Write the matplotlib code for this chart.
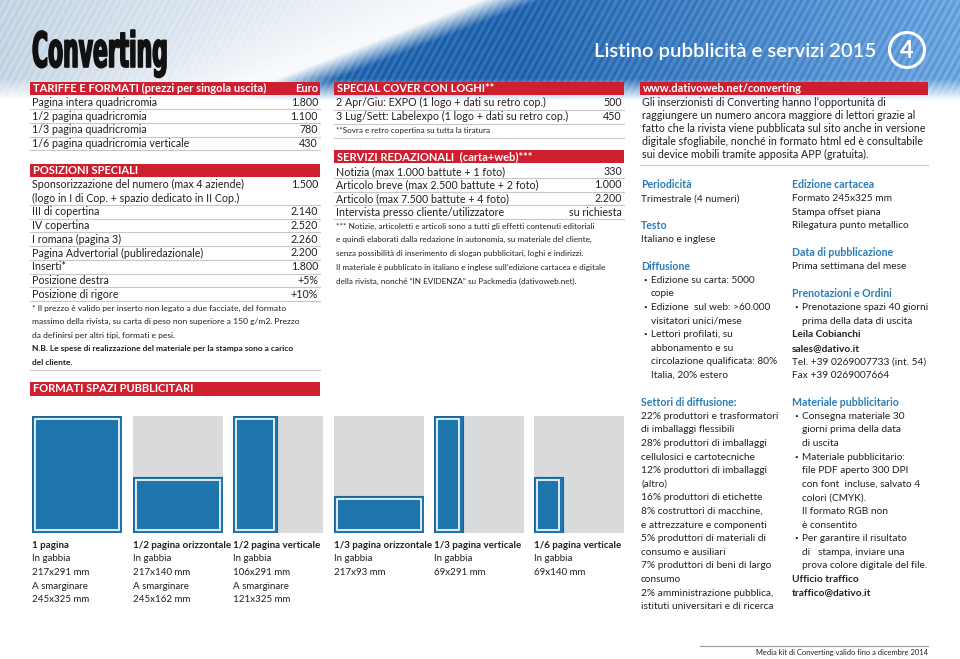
import numpy as np
import matplotlib
matplotlib.use("Agg")
import matplotlib.pyplot as plt
from matplotlib.patches import Rectangle, Circle
from matplotlib.patheffects import AbstractPathEffect
from matplotlib.transforms import Affine2D

plt.rcParams['font.family'] = ['Lato', 'DejaVu Sans']

RED = '#cd1f30'
BLUE = '#1f76ad'
HEAD_BLUE = '#2a7db8'
GRAY = '#d9dadc'
LINE = '#c6c7c9'
INK = '#231f20'

# ---- data ----
tariffe_labels = ["Pagina intera quadricromia", "1/2 pagina quadricromia",
                  "1/3 pagina quadricromia", "1/6 pagina quadricromia verticale"]
tariffe_prices = ["1.800", "1.100", "780", "430"]

posizioni_labels = ["Sponsorizzazione del numero (max 4 aziende)",
                    "(logo in I di Cop. + spazio dedicato in II Cop.)",
                    "III di copertina", "IV copertina", "I romana (pagina 3)",
                    "Pagina Advertorial (publiredazionale)", "Inserti*",
                    "Posizione destra", "Posizione di rigore"]
posizioni_prices = ["1.500", "", "2.140", "2.520", "2.260", "2.200", "1.800", "+5%", "+10%"]

posizioni_note = ["* Il prezzo è valido per inserto non legato a due facciate, del formato",
                  "massimo della rivista, su carta di peso non superiore a 150 g/m2. Prezzo",
                  "da definirsi per altri tipi, formati e pesi."]
posizioni_nb = ["N.B. Le spese di realizzazione del materiale per la stampa sono a carico",
                "del cliente."]

special_labels = ["2 Apr/Giu: EXPO (1 logo + dati su retro cop.)",
                  "3 Lug/Sett: Labelexpo (1 logo + dati su retro cop.)"]
special_prices = ["500", "450"]
special_note = "**Sovra e retro copertina su tutta la tiratura"

servizi_labels = ["Notizia (max 1.000 battute + 1 foto)",
                  "Articolo breve (max 2.500 battute + 2 foto)",
                  "Articolo (max 7.500 battute + 4 foto)",
                  "Intervista presso cliente/utilizzatore"]
servizi_prices = ["330", "1.000", "2.200", "su richiesta"]
servizi_note = ["*** Notizie, articoletti e articoli sono a tutti gli effetti contenuti editoriali",
                "e quindi elaborati dalla redazione in autonomia, su materiale del cliente,",
                "senza possibilità di inserimento di slogan pubblicitari, loghi e indirizzi.",
                "Il materiale è pubblicato in italiano e inglese sull\u2019edizione cartacea e digitale",
                "della rivista, nonché \u201cIN EVIDENZA\u201d su Packmedia (dativoweb.net)."]

web_text = ["Gli inserzionisti di Converting hanno l\u2019opportunità di",
            "raggiungere un numero ancora maggiore di lettori grazie al",
            "fatto che la rivista viene pubblicata sul sito anche in versione",
            "digitale sfogliabile, nonché in formato html ed è consultabile",
            "sui device mobili tramite apposita APP (gratuita)."]

# (style, text) per line slot; None = empty slot
info_left = [("h", "Periodicità"), ("t", "Trimestrale (4 numeri)"), None,
             ("h", "Testo"), ("t", "Italiano e inglese"), None,
             ("h", "Diffusione"), ("b", "Edizione su carta: 5000"), ("c", "copie"),
             ("b", "Edizione  sul web: >60.000"), ("c", "visitatori unici/mese"),
             ("b", "Lettori profilati, su"), ("c", "abbonamento e su"),
             ("c", "circolazione qualificata: 80%"), ("c", "Italia, 20% estero"), None,
             ("h", "Settori di diffusione:"),
             ("t", "22% produttori e trasformatori"), ("t", "di imballaggi flessibili"),
             ("t", "28% produttori di imballaggi"), ("t", "cellulosici e cartotecniche"),
             ("t", "12% produttori di imballaggi"), ("t", "(altro)"),
             ("t", "16% produttori di etichette"), ("t", "8% costruttori di macchine,"),
             ("t", "e attrezzature e componenti"), ("t", "5% produttori di materiali di"),
             ("t", "consumo e ausiliari"), ("t", "7% produttori di beni di largo"),
             ("t", "consumo"), ("t", "2% amministrazione pubblica,"),
             ("t", "istituti universitari e di ricerca")]
info_right = [("h", "Edizione cartacea"), ("t", "Formato 245x325 mm"),
              ("t", "Stampa offset piana"), ("t", "Rilegatura punto metallico"), None,
              ("h", "Data di pubblicazione"), ("t", "Prima settimana del mese"), None,
              ("h", "Prenotazioni e Ordini"), ("b", "Prenotazione spazi 40 giorni"),
              ("c", "prima della data di uscita"), ("k", "Leila Cobianchi"),
              ("k", "sales@dativo.it"), ("t", "Tel. +39 0269007733 (int. 54)"),
              ("t", "Fax +39 0269007664"), None,
              ("h", "Materiale pubblicitario"), ("b", "Consegna materiale 30"),
              ("c", "giorni prima della data"), ("c", "di uscita"),
              ("b", "Materiale pubblicitario:"), ("c", "file PDF aperto 300 DPI"),
              ("c", "con font  incluse, salvato 4"), ("c", "colori (CMYK)."),
              ("c", "Il formato RGB non"), ("c", "è consentito"),
              ("b", "Per garantire il risultato"), ("c", "di   stampa, inviare una"),
              ("c", "prova colore digitale del file."), ("k", "Ufficio traffico"),
              ("k", "traffico@dativo.it")]

format_names = ["1 pagina", "1/2 pagina orizzontale", "1/2 pagina verticale",
                "1/3 pagina orizzontale", "1/3 pagina verticale", "1/6 pagina verticale"]
format_gabbia = [(217, 291), (217, 140), (106, 291), (217, 93), (69, 291), (69, 140)]
format_smarginare = [(245, 325), (245, 162), (121, 325), None, None, None]
page_gabbia = (217, 291)


class Squeeze(AbstractPathEffect):
    """Horizontally condense text drawn as path (for the logo)."""
    def __init__(self, sx, lw=0.0):
        super().__init__()
        self.sx = sx
        self.lw = lw

    def draw_path(self, renderer, gc, tpath, affine, rgbFace=None):
        x0, y0 = affine.transform((0, 0))
        aff = affine + Affine2D().translate(-x0, -y0).scale(self.sx, 1.0).translate(x0, y0)
        gc0 = renderer.new_gc()
        gc0.copy_properties(gc)
        if self.lw:
            gc0.set_linewidth(self.lw)
            gc0.set_foreground(rgbFace)
        renderer.draw_path(gc0, tpath, aff, rgbFace)
        gc0.restore()


fig = plt.figure(figsize=(9.6, 6.59), dpi=100)
ax = fig.add_axes([0, 0, 1, 1])
ax.set_xlim(0, 960)
ax.set_ylim(659, 0)
ax.axis('off')

# ---- header background (swirl approximation) ----
H, W = 110, 960
yy, xx = np.mgrid[0:H, 0:W].astype(float)
edge = 480 - 2.6 * yy
t = np.clip((xx - edge) / 60.0, 0, 1)
streak = 0.5 + 0.5 * np.sin((xx + 0.55 * yy) * 0.9)
left_mix = np.clip(xx / (edge - 30), 0, 1)[..., None]
left_col = (1 - left_mix) * np.array([0.80, 0.86, 0.92]) + left_mix * np.array([0.97, 0.98, 0.99])
left_col = left_col - 0.05 * streak[..., None] * (1 - left_mix)
bm = np.clip((xx - 520) / 440.0, 0, 1)[..., None]
blue_col = (1 - bm) * np.array([0.10, 0.36, 0.64]) + bm * np.array([0.38, 0.60, 0.83])
blue_col = blue_col + 0.10 * streak[..., None]
img = (1 - t[..., None]) * left_col + t[..., None] * blue_col
alpha = np.clip((100 - yy) / 22.0, 0, 1)
rgba = np.dstack([np.clip(img, 0, 1), alpha])
ax.imshow(rgba, extent=[0, 960, 110, 0], aspect='auto', zorder=0)

logo = ax.text(32, 67, "Converting", fontsize=35, fontweight='bold',
               family=['DejaVu Sans'], color='#111111', ha='left', va='baseline', zorder=3)
ax.text(594, 57, "Listino pubblicità e servizi 2015", fontsize=14.6, fontweight='semibold',
        color='white', ha='left', va='baseline', zorder=3)
ax.add_patch(Circle((907, 50), 17.5, fill=False, ec='white', lw=2.2, zorder=3))
ax.text(907, 50.5, "4", fontsize=17, fontweight='bold', color='white',
        ha='center', va='center', zorder=3)


def red_bar(x0, x1, y0, y1, text, right=None):
    ax.add_patch(Rectangle((x0, y0), x1 - x0, y1 - y0, fc=RED, ec='none', zorder=2))
    ym = (y0 + y1) / 2
    ax.text(x0 + 3, ym, text, fontsize=8, fontweight='bold', color='white',
            ha='left', va='center', zorder=3)
    if right:
        ax.text(x1 - 2, ym, right, fontsize=8, fontweight='bold', color='white',
                ha='right', va='center', zorder=3)


def hline(x0, x1, y, color=LINE, lw=0.8):
    ax.plot([x0, x1], [y, y], color=color, lw=lw, zorder=2)


def rows(labels, prices, x0, x1, y0, step, size=7.7):
    for i, (lab, pr) in enumerate(zip(labels, prices)):
        y = y0 + i * step
        ax.text(x0 + 2, y, lab, fontsize=size, color=INK, ha='left', va='center', zorder=3)
        if pr:
            ax.text(x1 - 2, y, pr, fontsize=size, color=INK, ha='right', va='center', zorder=3)
        nxt = prices[i + 1] if i + 1 < len(prices) else "x"
        if nxt:
            hline(x0, x1, y + step / 2)


# ---- left column ----
LX0, LX1 = 30, 320
red_bar(LX0, LX1, 82, 95, "TARIFFE E FORMATI (prezzi per singola uscita)", "Euro")
rows(tariffe_labels, tariffe_prices, LX0, LX1, 102.5, 13.7)
red_bar(LX0, LX1, 164, 177, "POSIZIONI SPECIALI")
rows(posizioni_labels, posizioni_prices, LX0, LX1, 184.5, 13.7)
for i, line in enumerate(posizioni_note):
    ax.text(LX0 + 2, 308 + i * 13.6, line, fontsize=6.1, color=INK, va='center', zorder=3)
for i, line in enumerate(posizioni_nb):
    ax.text(LX0 + 2, 349 + i * 13.6, line, fontsize=6.0, fontweight='bold', color=INK,
            va='center', zorder=3)
hline(LX0, LX1, 369.5)
red_bar(LX0, LX1, 382, 396, "FORMATI SPAZI PUBBLICITARI")

# ---- middle column ----
MX0, MX1 = 334, 624
red_bar(MX0, MX1, 82, 95, "SPECIAL COVER CON LOGHI**")
rows(special_labels, special_prices, MX0, MX1, 102.5, 14)
ax.text(MX0 + 2, 130.5, special_note, fontsize=5.8, color=INK, va='center', zorder=3)
hline(MX0, MX1, 137.5)
red_bar(MX0, MX1, 150, 163, "SERVIZI REDAZIONALI  (carta+web)***")
rows(servizi_labels, servizi_prices, MX0, MX1, 171.5, 13.5)
for i, line in enumerate(servizi_note):
    ax.text(MX0 + 2, 226 + i * 13.8, line, fontsize=5.9, color=INK, va='center', zorder=3)

# ---- right column ----
RX0, RX1 = 640, 928
red_bar(RX0, RX1, 82, 95, "www.dativoweb.net/converting")
for i, line in enumerate(web_text):
    ax.text(RX0 + 2, 103 + i * 12.8, line, fontsize=7.7, color=INK, va='center', zorder=3)
hline(RX0, RX1, 164.5)


def info(items, x, y0=185, step=13.6):
    for k, item in enumerate(items):
        if item is None:
            continue
        kind, txt = item
        y = y0 + k * step
        if kind == "h":
            ax.text(x, y, txt, fontsize=7.6, fontweight='bold', color=HEAD_BLUE,
                    va='center', zorder=3)
        elif kind == "k":
            ax.text(x, y, txt, fontsize=7.3, fontweight='bold', color=INK, va='center', zorder=3)
        elif kind == "b":
            ax.text(x + 4, y, "\u2022", fontsize=4.5, color=INK, va='center', ha='center', zorder=3)
            ax.text(x + 10, y, txt, fontsize=7.3, color=INK, va='center', zorder=3)
        elif kind == "c":
            ax.text(x + 10, y, txt, fontsize=7.3, color=INK, va='center', zorder=3)
        else:
            ax.text(x, y, txt, fontsize=7.3, color=INK, va='center', zorder=3)


info(info_left, 641)
info(info_right, 792)

# ---- format diagrams ----
box_x = [32, 133, 233, 334, 434, 534]
BOX_W, BOX_H, BOX_Y = 90, 117, 416
for i, name in enumerate(format_names):
    bx = box_x[i]
    dax = fig.add_axes([bx / 960, 1 - (BOX_Y + BOX_H) / 659, BOX_W / 960, BOX_H / 659])
    dax.set_xlim(0, 1)
    dax.set_ylim(0, 1)
    dax.axis('off')
    wf = format_gabbia[i][0] / page_gabbia[0]
    hf = format_gabbia[i][1] / page_gabbia[1]
    dax.add_patch(Rectangle((0, 0), 1, 1, fc=GRAY, ec='none'))
    dax.add_patch(Rectangle((0, 0), wf, hf, fc=BLUE, ec='#1a6597', lw=0.8))
    px, py = 0.035, 0.025
    dax.add_patch(Rectangle((px, py), wf - 2 * px, hf - 2 * py, fill=False, ec='white', lw=1.2))

    ax.text(bx, 545, name, fontsize=7, fontweight='bold', color=INK, va='center', zorder=3)
    ax.text(bx, 558.7, "In gabbia", fontsize=7, color=INK, va='center', zorder=3)
    g = format_gabbia[i]
    ax.text(bx, 572.4, f"{g[0]}x{g[1]} mm", fontsize=7, color=INK, va='center', zorder=3)
    s = format_smarginare[i]
    if s is not None:
        ax.text(bx, 586.1, "A smarginare", fontsize=7, color=INK, va='center', zorder=3)
        ax.text(bx, 599.8, f"{s[0]}x{s[1]} mm", fontsize=7, color=INK, va='center', zorder=3)

# ---- footer ----
hline(700, 928, 645.5, color='#9a9a9a', lw=0.8)
ax.text(928, 653, "Media kit di Converting valido fino a dicembre 2014", fontsize=5.4,
        color=INK, ha='right', va='center', zorder=3)

# condense the logo to its printed width
fig.canvas.draw()
bb = logo.get_window_extent()
logo.set_path_effects([Squeeze(136.0 / bb.width, lw=1.2)])

fig.savefig("out.png", dpi=100)
